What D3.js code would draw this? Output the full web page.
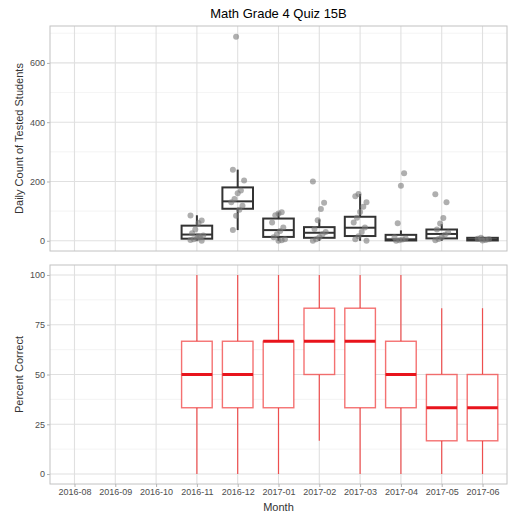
<!DOCTYPE html>
<html>
<head>
<meta charset="utf-8">
<script src="https://cdn.jsdelivr.net/npm/d3@7"></script>
<style>
  body { margin: 0; background: #fff; }
  text { font-family: "Liberation Sans", Arial, sans-serif; }
</style>
</head>
<body>
<div class="chart"></div>
<script>
const months = ["2016-08","2016-09","2016-10","2016-11","2016-12","2017-01",
                "2017-02","2017-03","2017-04","2017-05","2017-06"];

// daily counts, box stats per month (null = no data)
const countLo  = [null,null,null, 0,  36, 0,  0, 0,  0,  0, 0];
const countQ1  = [null,null,null, 7, 108, 13, 10, 16, 1,  8, 1];
const countMed = [null,null,null, 21,133, 36, 27, 44, 5, 23, 4];
const countQ3  = [null,null,null, 51,180, 75, 46, 81, 20, 38, 10];
const countHi  = [null,null,null, 86,240, 96, 72,158, 35, 56, 14];
const countPts = [[],[],[],
  [85,68,60,38,25,18,12,8,5,3,0,15],
  [688,240,203,170,160,141,130,118,105,84,36],
  [96,92,86,62,45,33,22,12,5,2,0],
  [200,128,107,69,40,30,22,12,5,0],
  [158,150,130,115,97,78,62,45,30,15,5,0],
  [228,186,59,12,8,4,2,0],
  [157,130,77,58,38,28,20,12,6,2],
  [10,7,5,3,1]];

// percent correct box stats
const pctLo  = [null,null,null, 0,    0,    0,    16.7, 0,    0,    0,    0];
const pctQ1  = [null,null,null, 33.3, 33.3, 33.3, 50,   33.3, 33.3, 16.7, 16.7];
const pctMed = [null,null,null, 50,   50,   66.7, 66.7, 66.7, 50,   33.3, 33.3];
const pctQ3  = [null,null,null, 66.7, 66.7, 66.7, 83.3, 83.3, 66.7, 50,   50];
const pctHi  = [null,null,null, 100,  100,  100,  100,  100,  100,  83.3, 83.3];

const countTicks = [0,200,400,600];
const countMinor = [100,300,500,700];
const pctTicks = [0,25,50,75,100];
const pctMinor = [12.5,37.5,62.5,87.5];

const W = 508, H = 515;
const left = 50, right = 507;
const top1 = 26, bot1 = 251, top2 = 265, bot2 = 484;

const svg = d3.select(".chart").append("svg")
    .attr("width", W).attr("height", H);

const x = d3.scalePoint().domain(months).range([left, right]).padding(0.6);
const boxW = x.step() * 0.75;

const y1 = d3.scaleLinear().domain([-34.5, 724.5]).range([bot1, top1]);
const y2 = d3.scaleLinear().domain([-5, 105]).range([bot2, top2]);

function panel(y, t, b, ticks, minor){
    const g = svg.append("g");
    g.append("rect").attr("x", left).attr("y", t)
        .attr("width", right-left).attr("height", b-t).attr("fill", "#fff");
    g.selectAll(".mn").data(minor).enter().append("line")
        .attr("x1", left).attr("x2", right)
        .attr("y1", d => y(d)).attr("y2", d => y(d))
        .attr("stroke", "#ececec").attr("stroke-width", 0.6);
    g.selectAll(".mj").data(ticks).enter().append("line")
        .attr("x1", left).attr("x2", right)
        .attr("y1", d => y(d)).attr("y2", d => y(d))
        .attr("stroke", "#e0e0e0").attr("stroke-width", 1.1);
    g.selectAll(".vx").data(months).enter().append("line")
        .attr("x1", d => x(d)).attr("x2", d => x(d))
        .attr("y1", t).attr("y2", b)
        .attr("stroke", "#e0e0e0").attr("stroke-width", 1.1);
    const ax = svg.append("g").attr("transform", `translate(${left},0)`)
        .call(d3.axisLeft(y).tickValues(ticks).tickSize(3).tickPadding(2));
    ax.select(".domain").remove();
    ax.selectAll("line").attr("stroke", "#b3b3b3");
    ax.selectAll("text").attr("fill", "#4d4d4d").style("font-size", "9px");
    return g;
}

const g1 = panel(y1, top1, bot1, countTicks, countMinor);
const g2 = panel(y2, top2, bot2, pctTicks, pctMinor);

// top panel boxplots
const idx = d3.range(months.length).filter(i => countMed[i] !== null);
idx.forEach(i => {
    const cx = x(months[i]);
    const col = "#333333";
    g1.append("line").attr("x1", cx).attr("x2", cx)
        .attr("y1", y1(countHi[i])).attr("y2", y1(countQ3[i]))
        .attr("stroke", col).attr("stroke-width", 2);
    g1.append("line").attr("x1", cx).attr("x2", cx)
        .attr("y1", y1(countQ1[i])).attr("y2", y1(countLo[i]))
        .attr("stroke", col).attr("stroke-width", 2);
    g1.append("rect").attr("x", cx - boxW/2).attr("y", y1(countQ3[i]))
        .attr("width", boxW).attr("height", Math.max(0, y1(countQ1[i]) - y1(countQ3[i])))
        .attr("fill", "none").attr("stroke", col).attr("stroke-width", 2);
    g1.append("line").attr("x1", cx - boxW/2).attr("x2", cx + boxW/2)
        .attr("y1", y1(countMed[i])).attr("y2", y1(countMed[i]))
        .attr("stroke", col).attr("stroke-width", 2);
    // jittered points
    g1.selectAll(null).data(countPts[i]).enter().append("circle")
        .attr("cx", (d, j) => cx + (((j * 7 + i * 3) % 9) - 4) * 1.6)
        .attr("cy", d => y1(d))
        .attr("r", 3)
        .attr("fill", "#7a7a7a").attr("fill-opacity", 0.6);
});

// bottom panel boxplots
idx.forEach(i => {
    const cx = x(months[i]);
    const col = "#f03535";
    g2.append("line").attr("x1", cx).attr("x2", cx)
        .attr("y1", y2(pctHi[i])).attr("y2", y2(pctQ3[i]))
        .attr("stroke", col).attr("stroke-opacity", 0.85).attr("stroke-width", 1.2);
    g2.append("line").attr("x1", cx).attr("x2", cx)
        .attr("y1", y2(pctQ1[i])).attr("y2", y2(pctLo[i]))
        .attr("stroke", col).attr("stroke-opacity", 0.85).attr("stroke-width", 1.2);
    g2.append("rect").attr("x", cx - boxW/2).attr("y", y2(pctQ3[i]))
        .attr("width", boxW).attr("height", y2(pctQ1[i]) - y2(pctQ3[i]))
        .attr("fill", "#fff").attr("stroke", col).attr("stroke-opacity", 0.7)
        .attr("stroke-width", 1.4);
    g2.append("line").attr("x1", cx - boxW/2).attr("x2", cx + boxW/2)
        .attr("y1", y2(pctMed[i])).attr("y2", y2(pctMed[i]))
        .attr("stroke", "#e8141c").attr("stroke-width", 3);
});

// panel borders
[[top1, bot1], [top2, bot2]].forEach(([t, b]) => {
    svg.append("rect").attr("x", left).attr("y", t)
        .attr("width", right-left).attr("height", b-t)
        .attr("fill", "none").attr("stroke", "#c2c2c2").attr("stroke-width", 1);
});

// x axis
const xa = svg.append("g").attr("transform", `translate(0,${bot2})`)
    .call(d3.axisBottom(x).tickSize(3).tickPadding(2));
xa.select(".domain").remove();
xa.selectAll("line").attr("stroke", "#b3b3b3");
xa.selectAll("text").attr("fill", "#4d4d4d").style("font-size", "9px");

// titles
svg.append("text").attr("x", (left+right)/2).attr("y", 18)
    .attr("text-anchor", "middle").style("font-size", "13px").attr("fill", "#000")
    .text("Math Grade 4 Quiz 15B");
svg.append("text").attr("x", (left+right)/2).attr("y", 511)
    .attr("text-anchor", "middle").style("font-size", "11px").attr("fill", "#333")
    .text("Month");
svg.append("text")
    .attr("transform", `translate(23,${(top1+bot1)/2}) rotate(-90)`)
    .attr("text-anchor", "middle").style("font-size", "11px").attr("fill", "#333")
    .text("Daily Count of Tested Students");
svg.append("text")
    .attr("transform", `translate(23,${(top2+bot2)/2}) rotate(-90)`)
    .attr("text-anchor", "middle").style("font-size", "11px").attr("fill", "#333")
    .text("Percent Correct");
</script>
</body>
</html>
